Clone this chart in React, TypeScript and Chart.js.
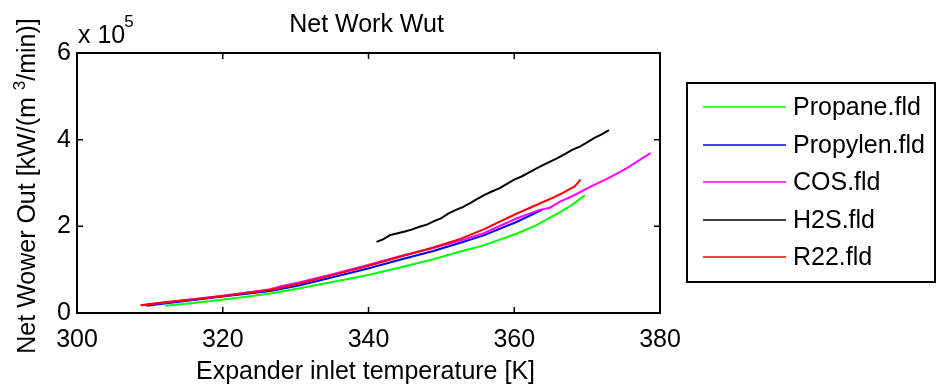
import React, { useEffect, useRef } from "react";
import { Chart, registerables } from "chart.js";

Chart.register(...registerables);

const FONT = "'Liberation Sans', Arial, Helvetica, sans-serif";

const chartTitle = "Net Work Wut";
const xTitle = "Expander inlet temperature [K]";
const yTitleMain = "Net Wower Out [kW/(m ";
const yTitleSup = "3";
const yTitleEnd = "/min)]";
const xTicks = [300, 320, 340, 360, 380];
const yTicks = [0, 2, 4, 6];
const yExponent = "5";

const labels = ["Propane.fld", "Propylen.fld", "COS.fld", "H2S.fld", "R22.fld"];
const colors = ["#00ff00", "#0000ff", "#ff00ff", "#000000", "#ff0000"];

const propaneT = [312.1, 316, 319.6, 323, 326.5, 330.6, 335.2, 339.8, 344.3, 348.9, 352.6, 355.8, 360.3, 363, 364.9, 366.3, 368, 369.7];
const propaneW = [0.17, 0.23, 0.30, 0.37, 0.45, 0.57, 0.72, 0.87, 1.05, 1.24, 1.42, 1.56, 1.83, 2.02, 2.20, 2.33, 2.50, 2.72];

const propylenT = [309.5, 312, 316, 320, 323, 326.5, 330.6, 335.2, 339.8, 344.3, 348.9, 352.6, 355.8, 360.3, 363.8];
const propylenW = [0.17, 0.22, 0.30, 0.38, 0.44, 0.51, 0.64, 0.83, 1.02, 1.23, 1.43, 1.62, 1.79, 2.10, 2.38];

const cosT = [309, 312, 316, 320, 323, 326.5, 328, 330.6, 335.2, 339.8, 344.3, 348.9, 352.6, 355.8, 360.3, 363.5, 364.9, 366.3, 368, 370.9, 373, 375.4, 378.7];
const cosW = [0.18, 0.24, 0.32, 0.40, 0.46, 0.55, 0.62, 0.71, 0.90, 1.10, 1.31, 1.50, 1.67, 1.84, 2.18, 2.38, 2.43, 2.57, 2.70, 2.95, 3.12, 3.34, 3.69];

const h2sT = [341.1, 342, 343, 344, 345, 346, 347, 348, 349, 350, 351, 352, 353, 354, 355, 356, 357, 358, 359, 360, 361, 362, 363, 364, 365, 366, 367, 368, 369, 370, 371, 372, 373];
const h2sW = [1.64, 1.70, 1.80, 1.84, 1.88, 1.93, 1.99, 2.04, 2.12, 2.19, 2.30, 2.38, 2.45, 2.54, 2.64, 2.73, 2.81, 2.88, 2.98, 3.08, 3.15, 3.24, 3.33, 3.42, 3.50, 3.58, 3.67, 3.77, 3.84, 3.94, 4.04, 4.12, 4.22];

const r22T = [308.7, 312, 316, 320, 323, 326.5, 330.6, 335.2, 339.8, 344.3, 348.9, 352.6, 355.8, 360.3, 364.9, 366.3, 367.6, 368.3, 369.1];
const r22W = [0.18, 0.25, 0.32, 0.39, 0.46, 0.53, 0.68, 0.88, 1.08, 1.30, 1.51, 1.71, 1.93, 2.29, 2.63, 2.74, 2.86, 2.92, 3.08];

const seriesT = [propaneT, propylenT, cosT, h2sT, r22T];
const seriesW = [propaneW, propylenW, cosW, h2sW, r22W];

const framePlugin = {
  id: "matlabFrame",
  afterDraw(chart: any) {
    const ctx = chart.ctx as CanvasRenderingContext2D;
    const a = chart.chartArea;
    const xs = chart.scales.x;
    const ys = chart.scales.y;
    ctx.save();
    ctx.strokeStyle = "#000";
    ctx.lineWidth = 2;
    ctx.strokeRect(a.left, a.top, a.right - a.left, a.bottom - a.top);
    ctx.lineWidth = 1.5;
    const tl = 6;
    ctx.beginPath();
    for (const v of xTicks) {
      const px = xs.getPixelForValue(v);
      ctx.moveTo(px, a.bottom);
      ctx.lineTo(px, a.bottom - tl);
      ctx.moveTo(px, a.top);
      ctx.lineTo(px, a.top + tl);
    }
    for (const v of yTicks) {
      const py = ys.getPixelForValue(v);
      ctx.moveTo(a.left, py);
      ctx.lineTo(a.left + tl, py);
      ctx.moveTo(a.right, py);
      ctx.lineTo(a.right - tl, py);
    }
    ctx.stroke();

    ctx.fillStyle = "#000";
    // title
    ctx.font = `25px ${FONT}`;
    ctx.textAlign = "center";
    ctx.textBaseline = "middle";
    ctx.fillText(chartTitle, (a.left + a.right) / 2 - 2, 25);
    // x title
    ctx.fillText(xTitle, (a.left + a.right) / 2 - 3, 372);
    // exponent
    ctx.textAlign = "left";
    ctx.textBaseline = "alphabetic";
    ctx.fillText("x 10", a.left + 1, 43);
    const w10 = ctx.measureText("x 10").width;
    ctx.font = `17px ${FONT}`;
    ctx.fillText(yExponent, a.left + w10, 27);

    // y title rotated
    ctx.save();
    ctx.translate(35, (a.top + a.bottom) / 2 + 3);
    ctx.rotate(-Math.PI / 2);
    ctx.font = `25px ${FONT}`;
    const w1 = ctx.measureText(yTitleMain).width;
    ctx.font = `17px ${FONT}`;
    const w2 = ctx.measureText(yTitleSup).width;
    ctx.font = `25px ${FONT}`;
    const w3 = ctx.measureText(yTitleEnd).width;
    let x0 = -(w1 + w2 + w3) / 2;
    ctx.textAlign = "left";
    ctx.textBaseline = "alphabetic";
    ctx.fillText(yTitleMain, x0, 0);
    x0 += w1;
    ctx.font = `17px ${FONT}`;
    ctx.fillText(yTitleSup, x0, -10);
    x0 += w2;
    ctx.font = `25px ${FONT}`;
    ctx.fillText(yTitleEnd, x0, 0);
    ctx.restore();

    // legend
    const lx = 687, ly = 83, lw = 248, lh = 199;
    ctx.fillStyle = "#fff";
    ctx.fillRect(lx, ly, lw, lh);
    ctx.lineWidth = 2;
    ctx.strokeStyle = "#000";
    ctx.strokeRect(lx, ly, lw, lh);
    const rows = [107, 145, 182, 220, 257];
    ctx.font = `25px ${FONT}`;
    ctx.textBaseline = "middle";
    ctx.textAlign = "left";
    chart.data.datasets.forEach((ds: any, i: number) => {
      const y = rows[i];
      ctx.strokeStyle = ds.borderColor;
      ctx.lineWidth = 1.5;
      ctx.beginPath();
      ctx.moveTo(703, y);
      ctx.lineTo(786, y);
      ctx.stroke();
      ctx.fillStyle = "#000";
      ctx.fillText(ds.label, 793, y + 1);
    });
    ctx.restore();
  },
};

export default function App() {
  const ref = useRef<HTMLCanvasElement>(null);
  useEffect(() => {
    document.body.style.margin = "0";
    const datasets = labels.map((label, i) => ({
      label,
      data: seriesT[i].map((t, j) => ({ x: t, y: seriesW[i][j] })),
      borderColor: colors[i],
      backgroundColor: colors[i],
      borderWidth: 2,
      pointRadius: 0,
      tension: 0,
      fill: false,
      order: labels.length - i,
    }));
    const chart = new Chart(ref.current as HTMLCanvasElement, {
      type: "line",
      data: { datasets },
      options: {
        responsive: false,
        animation: false,
        layout: { padding: { top: 53, right: 277, left: 0, bottom: 0 } },
        plugins: {
          legend: { display: false },
          title: { display: false },
          tooltip: { enabled: false },
        },
        scales: {
          x: {
            type: "linear",
            min: 300,
            max: 380,
            afterBuildTicks: (s: any) => {
              s.ticks = xTicks.map((v) => ({ value: v }));
            },
            grid: { display: false, drawTicks: false },
            border: { display: false },
            ticks: {
              color: "#000",
              font: { family: FONT, size: 25 },
              padding: 12,
              maxRotation: 0,
              autoSkip: false,
            },
            afterFit: (s: any) => {
              s.height = 75;
            },
          },
          y: {
            type: "linear",
            min: 0,
            max: 6,
            afterBuildTicks: (s: any) => {
              s.ticks = yTicks.map((v) => ({ value: v }));
            },
            grid: { display: false, drawTicks: false },
            border: { display: false },
            ticks: {
              color: "#000",
              font: { family: FONT, size: 25 },
              padding: 6,
              autoSkip: false,
            },
            afterFit: (s: any) => {
              s.width = 77;
            },
          },
        },
      },
      plugins: [framePlugin],
    });
    return () => chart.destroy();
  }, []);
  return <canvas ref={ref} width={937} height={388} style={{ display: "block" }} />;
}
